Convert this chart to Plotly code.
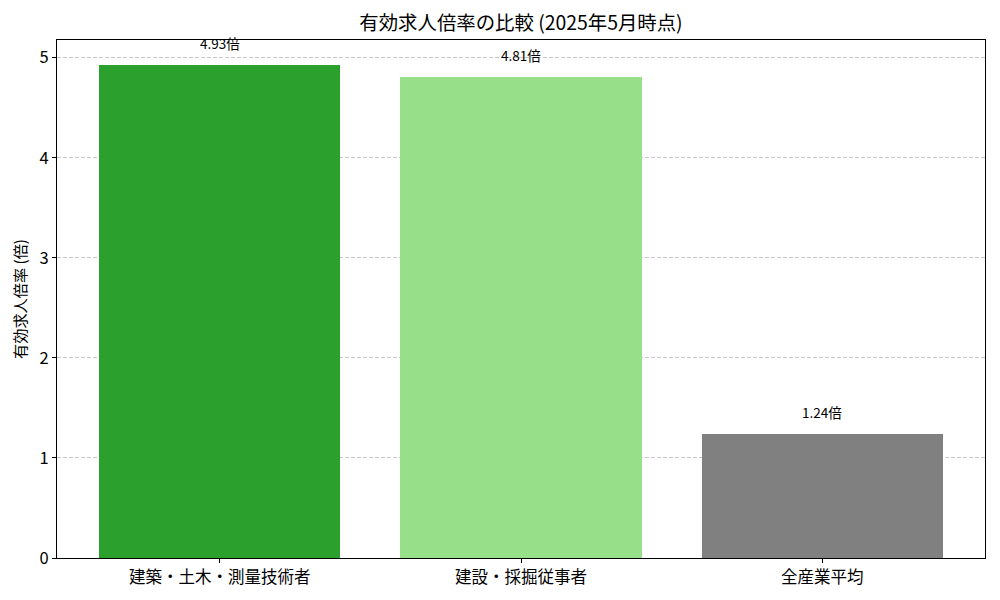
import plotly.graph_objects as go

# 職種ごとの有効求人倍率 (2025年5月)
categories = ["建築・土木・測量技術者", "建設・採掘従事者", "全産業平均"]
ratios = [4.93, 4.81, 1.24]
bar_colors = ["#2ca02c", "#98df8a", "#808080"]
labels = [f"{v:.2f}倍" for v in ratios]

FONT = "Noto Sans CJK JP"

fig = go.Figure()
fig.add_trace(go.Bar(
    x=list(range(len(categories))),
    y=ratios,
    width=0.8,
    marker_color=bar_colors,
    marker_line_width=0,
    showlegend=False,
))

# 値ラベルを棒の少し上に置く
for i, (v, t) in enumerate(zip(ratios, labels)):
    fig.add_annotation(x=i, y=v + 0.1, text=t, showarrow=False,
                       yanchor="bottom", font=dict(size=13.5, color="black"))

# ページの body に 8px の余白が付くので、その分だけ小さく作る
fig.update_layout(
    width=992, height=592,
    margin=dict(l=49, r=15, t=32, b=42),
    plot_bgcolor="white",
    paper_bgcolor="white",
    font=dict(family=FONT, color="black"),
    title=dict(text="有効求人倍率の比較 (2025年5月時点)", xref="paper", x=0.5, xanchor="center",
               yref="container", y=0.975, yanchor="middle", font=dict(size=19.4)),
    bargap=0,
)
fig.update_xaxes(
    range=[-0.54, 2.54],
    tickmode="array", tickvals=list(range(len(categories))), ticktext=categories,
    tickfont=dict(size=16.5), ticks="outside", ticklen=4, tickcolor="black",
    showline=True, linecolor="black", linewidth=1, mirror=True,
    showgrid=False, zeroline=False,
)
fig.update_yaxes(
    range=[0, 4.93 * 1.05],
    tickvals=[0, 1, 2, 3, 4, 5],
    tickfont=dict(size=16.5), ticks="outside", ticklen=4, tickcolor="black",
    showline=True, linecolor="black", linewidth=1, mirror=True,
    showgrid=True, gridcolor="rgba(176,176,176,0.7)", griddash="4px,2px", gridwidth=1,
    zeroline=False,
    title=dict(text="有効求人倍率 (倍)", font=dict(size=15.2), standoff=10),
)

fig.write_html("out.html")
